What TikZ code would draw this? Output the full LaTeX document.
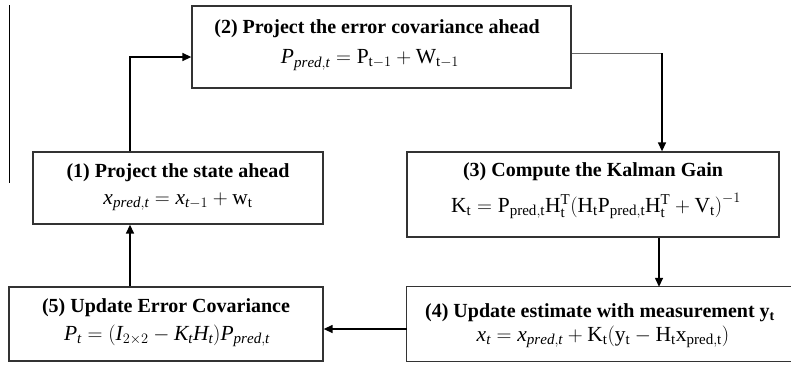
\documentclass[tikz,border=0pt]{standalone}
\usepackage{fontspec}
\setmainfont{Liberation Serif}
\usetikzlibrary{arrows.meta}
\tikzset{
  box/.style={draw=black!80, line width=1.3pt, inner sep=0pt},
  ttl/.style={inner sep=0pt, font=\fontsize{20}{24}\selectfont\bfseries},
  frm/.style={inner sep=0pt, font=\fontsize{21.5}{25}\selectfont},
  arr/.style={line width=1.4pt, -{Triangle[length=9pt,width=8pt]}},
  thinline/.style={line width=0.8pt, draw=black!60},
}
\begin{document}
\begin{tikzpicture}[x=1pt,y=-1pt]
\useasboundingbox (0,0) rectangle (791,365);
% left vertical rule
\draw[line width=0.9pt] (9,5) -- (9,183);
% boxes
\node[box, minimum width=379pt, minimum height=82pt] (b2) at (381.5,47) {};
\node[box, minimum width=290pt, minimum height=72pt] (b1) at (178,188) {};
\node[box, minimum width=372pt, minimum height=85pt] (b3) at (593,194.5) {};
\node[minimum width=390pt, minimum height=74pt, inner sep=0pt] (b4) at (602,324) {};
\draw[box] (b4.north east) -- (b4.north west) -- (b4.south west) -- (b4.south east);
\node[box, minimum width=314pt, minimum height=74pt] (b5) at (166,324) {};
% texts
\node[ttl] (t2) at (377,29) {(2) Project the error covariance ahead};
\node[frm] (f2) at (370,60) {$\mathit{P}_{\mathit{pred,t}} = \mathrm{P}_{\mathrm{t}-1} + \mathrm{W}_{\mathrm{t}-1}$};
\node[ttl] (t1) at (178,173) {(1) Project the state ahead};
\node[frm] (f1) at (178,202) {$\mathit{x}_{\mathit{pred,t}} = \mathit{x}_{\mathit{t}-1} + \mathrm{w}_{\mathrm{t}}$};
\node[ttl] (t3) at (593,172) {(3) Compute the Kalman Gain};
\node[frm] (f3) at (596,206) {$\mathrm{K}_{\mathrm{t}} = \mathrm{P}_{\mathrm{pred,t}}\mathrm{H}_{\mathrm{t}}^{\mathrm{T}}\bigl(\mathrm{H}_{\mathrm{t}}\mathrm{P}_{\mathrm{pred,t}}\mathrm{H}_{\mathrm{t}}^{\mathrm{T}} + \mathrm{V}_{\mathrm{t}}\bigr)^{-1}$};
\node[ttl] (t4) at (600,313) {(4) Update estimate with measurement $\mathbf{y}_{\mathbf{t}}$};
\node[frm] (f4) at (603,337) {$\mathit{x}_{\mathit{t}} = \mathit{x}_{\mathit{pred,t}} + \mathrm{K}_{\mathrm{t}}(\mathrm{y}_{\mathrm{t}} - \mathrm{H}_{\mathrm{t}}\mathrm{x}_{\mathrm{pred,t}})$};
\node[ttl] (t5) at (166,308) {(5) Update Error Covariance};
\node[frm] (f5) at (167,336) {$\mathit{P}_{\mathit{t}} = (\mathit{I}_{2\times 2} - \mathit{K}_{\mathit{t}}\mathit{H}_{\mathit{t}})\mathit{P}_{\mathit{pred,t}}$};
% connectors
\draw[arr] ([xshift=-48pt]b1.north) |- ([yshift=-10pt]b2.west);
\coordinate (c23) at (662,53);
\draw[thinline] ([yshift=-6pt]b2.east) -- (c23);
\draw[arr] (c23) -- (c23 |- b3.north);
\draw[arr] ([xshift=66pt]b3.south) -- ([xshift=66pt]b3.south |- b4.north);
\draw[arr] ([yshift=-5pt]b4.west) -- ([yshift=-5pt]b4.west -| b5.east);
\draw[arr] ([xshift=-36pt]b5.north) -- ([xshift=-36pt]b5.north |- b1.south);
\end{tikzpicture}
\end{document}
